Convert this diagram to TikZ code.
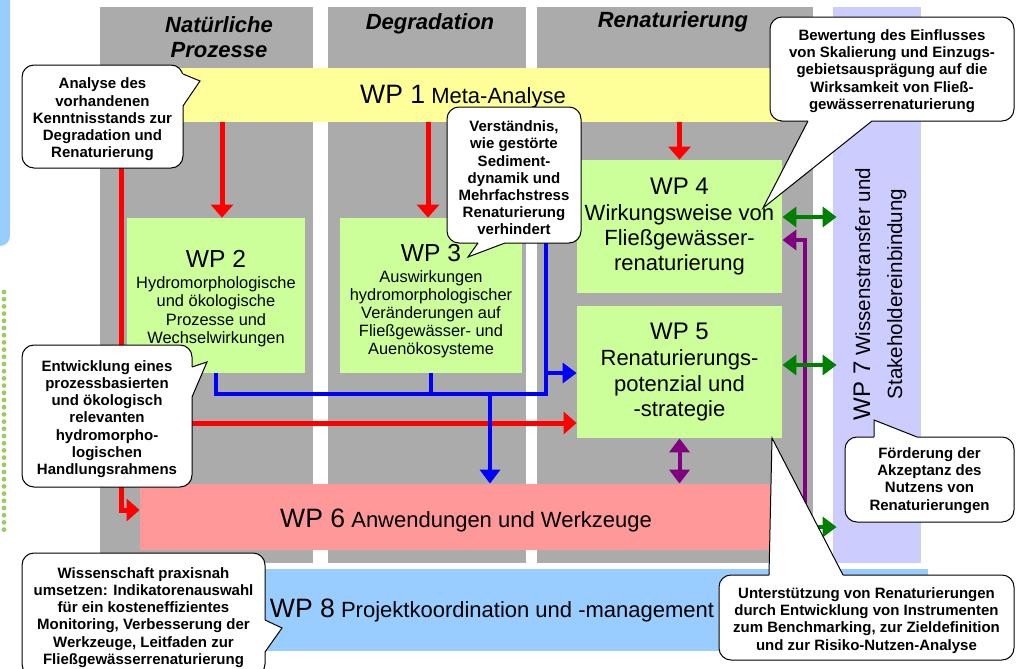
\documentclass[tikz,border=0pt]{standalone}
\usepackage{fontspec}
\setmainfont{Liberation Sans}
\usetikzlibrary{arrows.meta, fit, calc}

\definecolor{colgray}{RGB}{171,171,171}
\definecolor{wpyellow}{RGB}{255,255,153}
\definecolor{wpgreen}{RGB}{204,255,153}
\definecolor{wppink}{RGB}{255,153,153}
\definecolor{wpblue}{RGB}{153,204,255}
\definecolor{wplilac}{RGB}{204,204,255}
\definecolor{dotgreen}{RGB}{153,204,102}
\definecolor{arrpurple}{RGB}{128,0,128}
\definecolor{arrgreen}{RGB}{0,128,0}

% bigger "WP n" part of a label
\newcommand{\wpnum}[2][12.3]{{\fontsize{#1}{#1}\selectfont #2}}
% speech bubble pointer: base point, tip, base point, shift into the bubble
\newcommand{\callptr}[4]{%
    \fill[white] (#1) -- (#2) -- (#3) -- ($(#3)+(#4)$) -- ($(#1)+(#4)$) -- cycle;
    \draw[line width=0.5pt] (#1) -- (#2) -- (#3);
}

\tikzset{
    colbox/.style={fill=colgray, inner sep=0pt},
    wpbox/.style={inner sep=0pt},
    colhead/.style={align=center, font=\fontsize{11}{12.5}\selectfont\bfseries\itshape},
    smallwp/.style={align=center, inner sep=0pt, font=\fontsize{8.2}{9.1}\selectfont},
    bigwp/.style={align=center, inner sep=0pt, font=\fontsize{11}{12.6}\selectfont},
    wplabel/.style={font=\fontsize{11}{13}\selectfont, inner sep=0pt},
    callbox/.style={draw=black, fill=white, line width=0.5pt, rounded corners=6pt, inner sep=0pt},
    calltext/.style={align=center, inner sep=0pt, font=\fontsize{7.5}{8.6}\selectfont\bfseries},
    redarr/.style={draw=red, line width=2.5pt, -{Triangle[width=11pt,length=6.5pt]}},
    blueline/.style={draw=blue, line width=2.3pt},
    bluearr/.style={blueline, ->},
    purparr/.style={draw=arrpurple, line width=2pt},
    greenarr/.style={draw=arrgreen, line width=2pt}
}

\begin{document}
\begin{tikzpicture}[x=0.5pt, y=-0.5pt, >={Triangle[width=10pt,length=7pt]}]
    \useasboundingbox (0,0) rectangle (1018,669);
    \clip (0,0) rectangle (1018,669);

    % left strip and dotted guide
    \fill[wpblue, rounded corners=5pt] (-20,-20) rectangle (10,246);
    \draw[dotgreen, line width=2.4pt, line cap=round, dash pattern=on 0pt off 3.6pt] (4,292) -- (4,536);

    % --- Columns ---
    \node[colbox, fit={(100,7) (313,563)}] (colnat) {};
    \node[colbox, fit={(328,7) (526,563)}] (coldeg) {};
    \node[colbox, fit={(537,7) (813,563)}] (colren) {};
    \node[colbox, fill=wplilac, fit={(833,7) (921,563)}] (wp7) {};

    \node[colhead] (hnat) at (219,37) {Natürliche\\Prozesse};
    \node[colhead] (hdeg) at (430,24) {Degradation};
    \node[colhead] (hren) at (673,22) {Renaturierung};

    % --- Work packages ---
    \node[wpbox, fill=wpyellow, fit={(100,68) (780,122)}] (wp1) {};
    \node[wplabel] (wp1lbl) at (463,97) {\wpnum[13.3]{WP 1} Meta-Analyse};

    \node[wpbox, fill=wpgreen, fit={(127,218) (305,373)}] (wp2) {};
    \node[smallwp] (wp2lbl) at ($(wp2.center)+(0,3)$)
        {\wpnum{WP 2}\\[1.5pt]Hydromorphologische\\und ökologische\\Prozesse und\\Wechselwirkungen};
    \node[wpbox, fill=wpgreen, fit={(340,218) (522,373)}] (wp3) {};
    \node[smallwp] (wp3lbl) at ($(wp3.center)+(0,6)$)
        {\wpnum{WP 3}\\[1pt]Auswirkungen\\hydromorphologischer\\Veränderungen auf\\Fließgewässer- und\\Auenökosysteme};
    \node[wpbox, fill=wpgreen, fit={(577,160) (782,293)}] (wp4) {};
    \node[bigwp] (wp4lbl) at (wp4.center)
        {\wpnum[12]{WP 4}\\[0.5pt]Wirkungsweise von\\Fließgewässer-\\renaturierung};
    \node[wpbox, fill=wpgreen, fit={(577,306) (782,438)}] (wp5) {};
    \node[bigwp] (wp5lbl) at (wp5.center)
        {\wpnum[12]{WP 5}\\[0.5pt]Renaturierungs-\\potenzial und\\-strategie};

    \node[wpbox, fill=wppink, fit={(140,484) (770,550)}] (wp6) {};
    \node[wplabel] (wp6lbl) at (466,520) {\wpnum[13.3]{WP 6} Anwendungen und Werkzeuge};

    \node[wpbox, fill=wpblue, fit={(100,569) (928,651)}] (wp8) {};
    \node[wplabel] (wp8lbl) at (492,610) {\wpnum[13.3]{WP 8} Projektkoordination und -management};

    \node[rotate=90, align=center, font=\fontsize{10.3}{16}\selectfont] (wp7lbl) at (880,294)
        {\wpnum[12]{WP 7} Wissenstransfer und\\Stakeholdereinbindung};

    % --- Red arrows ---
    \coordinate (r2) at ($(wp2.north)+(6,0)$);
    \coordinate (r3) at ($(wp3.north)+(-3,0)$);
    \coordinate (rsplit) at (121,423);
    \draw[redarr] (wp1.south -| r2) -- (r2);
    \draw[redarr] (wp1.south -| r3) -- (r3);
    \draw[redarr] (wp1.south -| wp4.north) -- (wp4.north);
    \draw[redarr] (wp1.south -| rsplit) |- ($(wp6.west)+(0,-7)$);
    \draw[redarr] (rsplit) -- (wp5.west |- rsplit);

    % --- Blue arrows ---
    \coordinate (bjoin) at (546,394);
    \coordinate (btop) at (546,230);
    \coordinate (bdown) at (490,394);
    \draw[blueline] (wp2.south) |- (bjoin) -- (btop);
    \draw[blueline] (wp3.south) -- (wp3.south |- bjoin);
    \draw[bluearr] (546,373) -- (wp5.west |- 0,373);
    \draw[bluearr] (bdown) -- (wp6.north -| bdown);

    % --- Purple arrows ---
    \draw[purparr, ->] (wp8.north -| 805,0) |- (wp4.east |- 0,240);
    \draw[purparr, <->] (wp5.south) -- (wp6.north -| wp5.south);

    % --- Green arrows ---
    \draw[greenarr, <->] (wp4.east |- 0,217) -- ($(wp7.west |- 0,217)+(4,0)$);
    \draw[greenarr, <->] (wp5.east |- 0,365) -- ($(wp7.west |- 0,365)+(4,0)$);
    \draw[greenarr, ->] (wp6.east |- 0,527) -- ($(wp7.west |- 0,527)+(4,0)$);

    % --- Speech bubbles ---
    \node[callbox, fit={(22,65) (183,168)}] (ana) {};
    \callptr{183,74}{200,81}{183,106}{-2,0}
    \node[calltext] (anatxt) at ($(ana.center)+(0,3)$)
        {Analyse des\\vorhandenen\\Kenntnisstands zur\\Degradation und\\Renaturierung};

    \node[callbox, fit={(447,107) (581,243)}] (vers) {};
    \callptr{478,243}{468,257}{505,243}{0,-2}
    \node[calltext] (verstxt) at ($(vers.center)+(0,3)$)
        {Verständnis,\\wie gestörte\\Sediment-\\dynamik und\\Mehrfachstress\\Renaturierung\\verhindert};

    \node[callbox, fit={(770,17) (1014,121)}] (bew) {};
    \callptr{808,121}{763,208}{872,121}{0,-2}
    \node[calltext] (bewtxt) at ($(bew.center)+(0,2)$)
        {Bewertung des Einflusses\\von Skalierung und Einzugs-\\gebietsausprägung auf die\\Wirksamkeit von Fließ-\\gewässerrenaturierung};

    \node[callbox, fit={(22,345) (192,487)}] (entw) {};
    \callptr{192,367}{207,362}{192,397}{-2,0}
    \node[calltext] (entwtxt) at ($(entw.center)+(0,3)$)
        {Entwicklung eines\\prozessbasierten\\und ökologisch\\relevanten\\hydromorpho-\\logischen\\Handlungsrahmens};

    \node[callbox, fit={(22,553) (265,676)}] (wiss) {};
    \callptr{265,620}{282,628}{265,652}{-2,0}
    \node[calltext] (wisstxt) at ($(wiss.center)+(0,3)$)
        {Wissenschaft praxisnah\\umsetzen: Indikatorenauswahl\\für ein kosteneffizientes\\Monitoring, Verbesserung der\\Werkzeuge, Leitfaden zur\\Fließgewässerrenaturierung};

    \node[callbox, fit={(845,437) (1014,522)}] (ford) {};
    \callptr{874,437}{874,420}{917,437}{0,2}
    \node[calltext] (fordtxt) at ($(ford.center)+(0,1)$)
        {Förderung der\\Akzeptanz des\\Nutzens von\\Renaturierungen};

    \node[callbox, fit={(719,575) (1014,660)}] (unt) {};
    \callptr{769,575}{772,438}{843,575}{0,2}
    \node[calltext] (unttxt) at ($(unt.center)+(0,3)$)
        {Unterstützung von Renaturierungen\\durch Entwicklung von Instrumenten\\zum Benchmarking, zur Zieldefinition\\und zur Risiko-Nutzen-Analyse};
\end{tikzpicture}
\end{document}
